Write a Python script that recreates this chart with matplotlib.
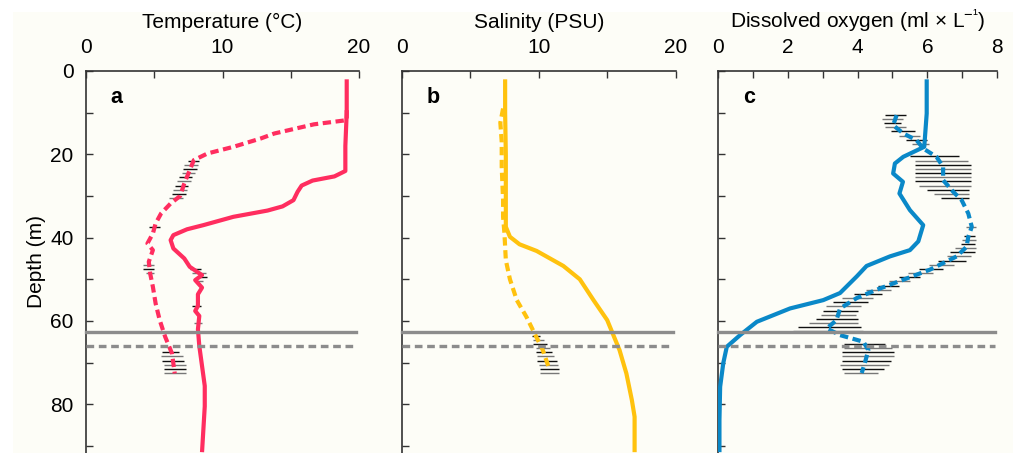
import numpy as np
import matplotlib.pyplot as plt
from matplotlib.patches import Rectangle

plt.rcParams['font.family'] = ['Liberation Sans', 'DejaVu Sans']
plt.rcParams['mathtext.fontset'] = 'custom'
plt.rcParams['mathtext.rm'] = 'Liberation Sans'
plt.rcParams['mathtext.default'] = 'regular'

# Temperature (deg C) vs depth (m)
temp_solid_depth = [2, 10, 18, 24, 25.3, 26.3, 27.5, 29, 31, 32.5, 33.5, 35, 37, 38, 39.4, 40.6, 42.6, 45,
                    47, 49, 50.2, 52, 53.6, 56.4, 57.6, 58.8, 62, 66, 70.8, 75.6, 80.5, 91.5]
temp_solid = [19.1, 19.1, 19.0, 19.0, 18.2, 16.6, 15.8, 15.5, 15.2, 14.4, 13.3, 10.8, 8.6, 7.4, 6.4, 6.2,
              6.4, 7.2, 7.6, 8.5, 8.0, 8.5, 8.2, 8.2, 8.0, 8.3, 8.2, 8.3, 8.5, 8.7, 8.7, 8.5]
temp_dash_depth = [9.4, 11.8, 12.8, 15, 16.2, 18.2, 19.8, 21.4, 23.8, 27, 30, 31.8, 34.2, 36.6, 39,
                   41.4, 43, 45.8, 48.6, 51.8, 55.8, 59.8, 63.8, 67.8, 72.6]
temp_dash = [19.1, 19.1, 16.7, 13.8, 12.8, 10.8, 8.9, 7.9, 7.6, 7.2, 6.9, 6.2, 5.5, 5.1, 4.9, 4.5,
             4.9, 4.6, 4.7, 4.9, 5.1, 5.4, 5.8, 6.3, 6.5]
temp_err_depth = [21.5, 22.5, 23.5, 24.5, 25.5, 26.5, 27.5, 28.5, 29.5, 30.5, 37.5, 46.5, 47.5, 48.5,
                  47.5, 48.5, 49.5, 50.5, 56.5, 60.5, 67.5, 68.5, 69.5, 70.5, 71.5, 72.5]
temp_err_x = [7.9, 7.7, 7.6, 7.5, 7.3, 7.2, 7.0, 6.9, 6.8, 6.6, 5.0, 4.6, 4.6, 4.7,
              8.0, 8.3, 8.5, 8.3, 8.1, 8.2, 6.2, 6.3, 6.4, 6.5, 6.5, 6.5]
temp_err_half = [0.4, 0.5, 0.5, 0.5, 0.5, 0.5, 0.5, 0.5, 0.5, 0.5, 0.4, 0.4, 0.4, 0.3,
                 0.4, 0.5, 0.4, 0.3, 0.3, 0.3, 0.6, 0.8, 0.8, 0.8, 0.8, 0.8]

# Salinity (PSU) vs depth (m)
sal_solid_depth = [2, 10, 20, 30, 37.4, 39.8, 41.6, 43.2, 46.8, 50, 55, 59.8, 63, 67, 72.6, 79, 83, 91.5]
sal_solid = [7.55, 7.55, 7.6, 7.6, 7.6, 7.9, 8.6, 9.85, 11.8, 13.0, 14.0, 15.0, 15.4, 15.9, 16.4, 16.8,
             17.0, 17.0]
sal_dash_depth = [9, 12.4, 17, 23, 31, 35, 39, 45.4, 50, 55, 59, 63, 67, 71.8]
sal_dash = [7.4, 7.2, 7.3, 7.3, 7.4, 7.4, 7.5, 7.6, 7.9, 8.4, 9.1, 9.7, 10.3, 10.8]
sal_err_depth = [63.5, 64.5, 65.5, 66.5, 67.5, 68.5, 69.5, 70.5, 71.5, 72.5]
sal_err_x = [9.8, 10.0, 10.1, 10.3, 10.4, 10.5, 10.6, 10.7, 10.8, 10.8]
sal_err_half = [0.3, 0.4, 0.5, 0.5, 0.6, 0.6, 0.7, 0.7, 0.7, 0.7]

# Dissolved oxygen (ml/L) vs depth (m)
ox_solid_depth = [2, 10.2, 18.2, 20.6, 22.2, 24.6, 26.6, 29.4, 33.4, 37, 40.9, 43, 44.5, 46.8, 49.3,
                  53.3, 55, 57, 60.2, 63.4, 66.2, 70.1, 75.8, 83.8, 91.5]
ox_solid = [5.98, 5.98, 5.91, 5.31, 5.07, 5.02, 5.3, 5.2, 5.5, 5.88, 5.74, 5.5, 4.93, 4.26, 3.98,
            3.5, 3.02, 2.07, 1.12, 0.64, 0.26, 0.16, 0.07, 0.05, 0.05]
ox_dash_depth = [10.6, 13, 15, 16.6, 18.6, 20.6, 23, 26.2, 29, 31, 34.2, 37.4, 39.8, 42.2, 44.5, 47.7,
                 50.1, 52.5, 54.5, 57, 59.8, 61.8, 63.4, 65, 67, 70.1, 72.5]
ox_dash = [5.12, 5.02, 5.31, 5.69, 5.88, 6.26, 6.45, 6.45, 6.74, 6.98, 7.17, 7.27, 7.17, 7.12, 6.84,
           6.07, 5.31, 4.55, 3.98, 3.5, 3.4, 3.12, 3.5, 4.17, 4.31, 4.21, 4.12]
ox_err_depth = [10.5, 11.5, 12.5, 13.5, 14.5, 15.5, 16.5, 17.5, 20.5, 21.5, 22.5, 23.5, 24.5, 25.5,
                26.5, 27.5, 28.5, 29.5, 30.5, 37.5, 39.5, 40.5, 41.5, 42.5, 43.5, 44.5, 45.5, 46.5,
                47.5, 48.5, 49.5, 50.5, 51.5, 52.5, 53.5, 54.5, 55.5, 56.5, 57.5, 58.5, 59.5, 60.5,
                61.5, 62.5, 65.5, 66.5, 67.5, 68.5, 69.5, 70.5, 71.5, 72.5]
ox_err_x = [5.1, 5.0, 5.0, 5.1, 5.3, 5.5, 5.7, 5.8, 6.2, 6.4, 6.45, 6.45, 6.45, 6.45, 6.45, 6.5, 6.6,
            6.7, 6.8, 7.25, 7.2, 7.2, 7.15, 7.1, 7.0, 6.9, 6.7, 6.4, 6.1, 5.8, 5.5, 5.2, 4.9, 4.6,
            4.3, 4.0, 3.8, 3.6, 3.5, 3.45, 3.4, 3.3, 3.2, 3.15, 4.2, 4.3, 4.3, 4.3, 4.25, 4.2, 4.15,
            4.1]
ox_err_half = [0.3, 0.3, 0.25, 0.3, 0.35, 0.3, 0.3, 0.25, 0.7, 0.75, 0.8, 0.8, 0.8, 0.8, 0.8, 0.75,
               0.6, 0.5, 0.4, 0.15, 0.15, 0.2, 0.2, 0.3, 0.35, 0.35, 0.4, 0.35, 0.35, 0.35, 0.3,
               0.3, 0.3, 0.35, 0.4, 0.45, 0.5, 0.5, 0.5, 0.5, 0.6, 0.7, 0.9, 1.0, 0.6, 0.7, 0.75,
               0.75, 0.7, 0.7, 0.6, 0.5]

# depth of the two reference lines
line_solid = 62.7
line_dash = 66.0

bg = '#fdfdf7'
fs = 15
fig = plt.figure(figsize=(10.13, 4.53), dpi=100, facecolor='white')
fig.patches.append(Rectangle((13 / 1013, 0), 1, 1 - 12 / 453, transform=fig.transFigure,
                             facecolor=bg, edgecolor='none', zorder=-10))

panels = [
    dict(left=86, width=273, xmax=20, major=10, minor=5, color='#ff2d5f', label='Temperature (°C)', letter='a',
         sd=temp_solid_depth, sv=temp_solid, dd=temp_dash_depth, dv=temp_dash,
         ed=temp_err_depth, ex=temp_err_x, eh=temp_err_half),
    dict(left=401.7, width=274, xmax=20, major=10, minor=5, color='#ffc20e', label='Salinity (PSU)', letter='b',
         sd=sal_solid_depth, sv=sal_solid, dd=sal_dash_depth, dv=sal_dash,
         ed=sal_err_depth, ex=sal_err_x, eh=sal_err_half),
    dict(left=717.7, width=279.6, xmax=8, major=2, minor=1, color='#0a88c8',
         label='Dissolved oxygen (ml × L$^{\u2212\u2009\u00b9}$)'.replace('\u2009', ''), letter='c',
         sd=ox_solid_depth, sv=ox_solid, dd=ox_dash_depth, dv=ox_dash,
         ed=ox_err_depth, ex=ox_err_x, eh=ox_err_half),
]

top = 71
for i, p in enumerate(panels):
    ax = fig.add_axes([p['left'] / 1013, 0, p['width'] / 1013, 1 - top / 453])
    ax.set_facecolor('none')
    ax.set_xlim(0, p['xmax'])
    ax.set_ylim(91.7, 0)

    # error bars on the profiles
    ed = np.array(p['ed'])
    ex = np.array(p['ex'])
    eh = np.array(p['eh'])
    ax.hlines(ed, ex - eh, ex + eh, colors=['#111111', '#777777'] * (len(ed) // 2 + 1), lw=1.0, zorder=2)

    ax.plot(p['sv'], p['sd'], color=p['color'], lw=3.0, zorder=3, solid_capstyle='butt')
    ax.plot(p['dv'], p['dd'], color=p['color'], lw=3.0, ls=(0, (2.0, 1.1)), zorder=3)

    # reference depths
    ax.axhline(line_solid, xmax=0.99, color='#8c8c8c', lw=2.4, zorder=4, clip_on=False)
    ax.axhline(line_dash, xmax=0.99, color='#8c8c8c', lw=2.4, ls=(0, (2.3, 1.4)), zorder=4, clip_on=False)

    ax.xaxis.tick_top()
    ax.xaxis.set_label_position('top')
    ax.set_xticks(np.arange(0, p['xmax'] + 0.01, p['major']))
    ax.set_xticks(np.arange(0, p['xmax'] + 0.01, p['minor']), minor=True)
    ax.set_yticks([0, 20, 40, 60, 80])
    ax.set_yticks([10, 30, 50, 70, 90], minor=True)
    ax.tick_params(axis='both', which='both', direction='in', colors='#333333', labelcolor='black',
                   labelsize=fs, width=1, top=True, bottom=False, left=True, right=False)
    ax.tick_params(which='both', length=5)
    ax.tick_params(axis='x', pad=10)
    ax.tick_params(axis='y', pad=9)
    if i > 0:
        ax.set_yticklabels([])
    else:
        ax.set_ylabel('Depth (m)', fontsize=fs, labelpad=3)
    ax.set_xlabel(p['label'], fontsize=fs, labelpad=7)
    for s in ['right', 'bottom']:
        ax.spines[s].set_visible(False)
    for s in ['left', 'top']:
        ax.spines[s].set_color('#333333')
        ax.spines[s].set_linewidth(1.2)
    ax.text(0.09, 0.93, p['letter'], transform=ax.transAxes, fontsize=15.5, fontweight='bold',
            ha='left', va='center')

fig.savefig('out.png', dpi=100, facecolor=fig.get_facecolor())
